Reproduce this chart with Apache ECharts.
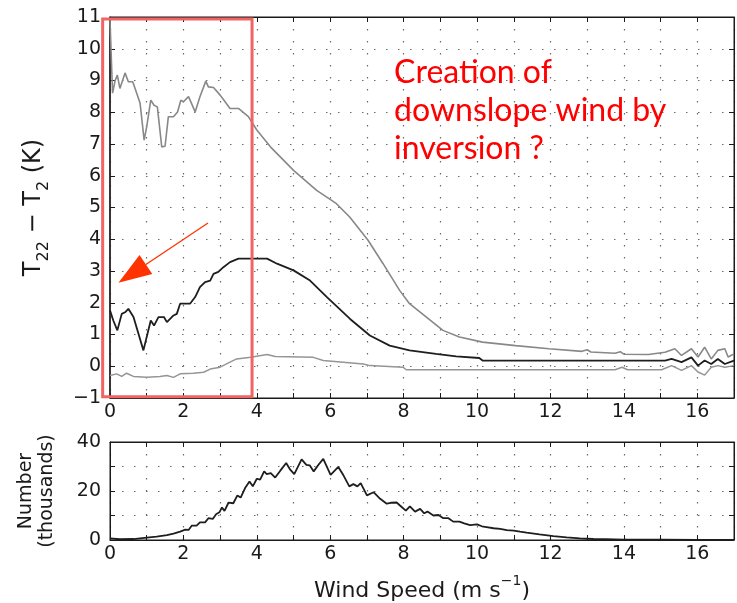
<!DOCTYPE html>
<html>
<head>
<meta charset="utf-8">
<script src="https://cdn.jsdelivr.net/npm/echarts@6/dist/echarts.min.js"></script>
<style>
  html, body { margin: 0; padding: 0; background: #ffffff; }
  #chart { width: 737px; height: 603px; }
</style>
</head>
<body>
<div id="chart"></div>
<script>
// Upper grey curve: T22 - T2 (K) against wind speed (m/s)
const upperCurve = [
  [0, 10.9], [0.07, 8.6], [0.14, 9.0], [0.2, 9.17], [0.27, 8.75], [0.41, 9.24], [0.5, 8.96],
  [0.62, 8.96], [0.73, 8.59], [0.82, 8.28], [0.93, 7.12], [1.0, 7.54], [1.11, 8.38], [1.2, 8.22],
  [1.29, 8.17], [1.41, 6.91], [1.5, 6.93], [1.59, 7.86], [1.73, 7.86], [1.84, 8.01], [1.93, 8.38],
  [2.0, 8.33], [2.14, 8.49], [2.32, 8.01], [2.45, 8.49], [2.61, 8.98], [2.68, 8.8], [2.82, 8.78],
  [3.0, 8.54], [3.07, 8.43], [3.27, 8.12], [3.5, 8.12], [3.77, 7.86], [4.0, 7.44], [4.37, 6.91],
  [5.0, 6.17], [5.63, 5.54], [6.17, 5.12], [6.53, 4.7], [7.03, 3.97], [7.44, 3.23], [7.89, 2.39],
  [8.16, 1.97], [8.62, 1.55], [9.07, 1.13], [9.52, 0.92], [10.15, 0.76], [11.05, 0.65],
  [11.96, 0.55], [12.86, 0.47], [13.0, 0.52], [13.1, 0.45], [13.76, 0.41], [13.9, 0.46],
  [14.0, 0.38], [14.67, 0.37], [15.12, 0.44], [15.39, 0.55], [15.57, 0.34], [15.84, 0.55],
  [16.02, 0.29], [16.2, 0.6], [16.38, 0.23], [16.56, 0.5], [16.75, 0.55], [16.84, 0.29], [17.0, 0.39]
];

// Dark middle curve
const middleCurve = [
  [0, 1.76], [0.09, 1.44], [0.2, 1.13], [0.32, 1.65], [0.41, 1.7], [0.5, 1.81], [0.64, 1.55],
  [0.91, 0.5], [1.11, 1.44], [1.2, 1.28], [1.32, 1.55], [1.47, 1.55], [1.55, 1.39], [1.73, 1.6],
  [1.82, 1.65], [1.91, 1.97], [2.18, 1.97], [2.32, 2.18], [2.45, 2.49], [2.59, 2.65], [2.73, 2.7],
  [2.82, 2.91], [2.95, 2.97], [3.09, 3.12], [3.27, 3.28], [3.5, 3.39], [4.28, 3.39], [4.55, 3.23],
  [5.0, 3.02], [5.45, 2.7], [5.91, 2.18], [6.54, 1.49], [7.08, 0.97], [7.62, 0.65], [8.16, 0.5],
  [8.88, 0.39], [9.43, 0.31], [10.06, 0.26], [10.15, 0.18], [15.12, 0.18], [15.3, 0.23],
  [15.57, 0.13], [15.84, 0.28], [16.02, 0.02], [16.2, 0.18], [16.38, 0.07], [16.56, 0.23],
  [16.75, 0.07], [17.0, 0.18]
];

// Lower grey curve
const lowerCurve = [
  [0, -0.29], [0.18, -0.24], [0.32, -0.32], [0.45, -0.22], [0.64, -0.32], [1.0, -0.35],
  [1.36, -0.32], [1.55, -0.29], [1.73, -0.35], [1.91, -0.24], [2.27, -0.22], [2.55, -0.19],
  [2.73, -0.09], [3.0, -0.03], [3.27, 0.13], [3.45, 0.23], [3.83, 0.28], [4.28, 0.37], [4.5, 0.31],
  [5.54, 0.28], [5.81, 0.18], [6.9, 0.07], [7.08, 0.02], [7.98, -0.03], [8.07, -0.11],
  [13.76, -0.11], [13.95, -0.03], [14.1, -0.11], [15.03, -0.11], [15.3, 0.02], [15.57, -0.13],
  [15.84, 0.02], [16.02, -0.18], [16.2, -0.28], [16.38, -0.03], [16.56, 0.02], [16.75, -0.03],
  [17.0, 0.02]
];

// Number of samples (thousands) per wind-speed bin
const countCurve = [
  [0, 0.7], [0.27, 0.3], [0.64, 0.4], [1.0, 1.0], [1.27, 1.4], [1.55, 2.0], [1.73, 2.6], [1.91, 3.4],
  [2.05, 4.2], [2.14, 4.1], [2.23, 5.9], [2.36, 5.9], [2.45, 7.2], [2.59, 7.2], [2.68, 8.9],
  [2.8, 8.6], [2.89, 10.5], [2.98, 11.3], [3.05, 13.3], [3.12, 11.9], [3.23, 15.3], [3.36, 15.0],
  [3.47, 18.2], [3.56, 17.3], [3.68, 21.2], [3.8, 23.9], [3.89, 21.9], [4.0, 25.0], [4.09, 24.6],
  [4.2, 28.0], [4.27, 26.9], [4.38, 27.3], [4.5, 25.5], [4.64, 28.3], [4.8, 31.4], [4.91, 28.7],
  [5.02, 26.9], [5.22, 32.9], [5.35, 30.7], [5.44, 30.5], [5.55, 28.0], [5.68, 30.7], [5.81, 33.1],
  [6.01, 26.6], [6.22, 29.8], [6.36, 26.4], [6.52, 21.9], [6.63, 22.8], [6.74, 21.9], [6.83, 23.2],
  [7.0, 18.2], [7.18, 19.5], [7.36, 16.8], [7.54, 14.8], [7.65, 15.2], [7.81, 15.3], [7.9, 14.1],
  [8.06, 12.0], [8.17, 13.7], [8.31, 11.6], [8.45, 12.7], [8.56, 10.9], [8.65, 11.6], [8.81, 10.0],
  [8.95, 10.2], [9.08, 8.9], [9.22, 8.9], [9.35, 7.5], [9.52, 7.5], [9.65, 6.8], [9.81, 6.1],
  [10.0, 6.4], [10.13, 5.6], [10.26, 5.3], [10.45, 4.8], [10.63, 4.5], [10.81, 4.0], [11.0, 3.8],
  [11.17, 3.4], [11.35, 3.0], [11.7, 2.3], [12.08, 1.6], [12.44, 1.1], [12.8, 0.7], [13.17, 0.4],
  [13.5, 0.3], [14.0, 0.15], [15.0, 0.1], [16.0, 0.05], [17.0, 0.05]
];

// Tick labels shown on each axis
const speedTickLabels = [0, 2, 4, 6, 8, 10, 12, 14, 16];
const tempTickLabels = [-1, 0, 1, 2, 3, 4, 5, 6, 7, 8, 9, 10, 11];
const countTickLabels = [0, 20, 40];

const FONT = 'DejaVu Sans';
const INK = '#1a1a1a';
const DOTS = { color: '#6a6a6a', width: 1.2, type: [1.5, 10.5] };

function fmtNum(v) {
  return v < 0 ? '\u2212' + Math.abs(v) : String(v);
}

function bottomX(grid, extra) {
  return Object.assign({
    type: 'value', gridIndex: grid, position: 'bottom', min: 0, max: 17, interval: 1,
    axisLine: { show: true, onZero: false, lineStyle: { color: INK, width: 1 } },
    axisTick: { show: true, inside: true, length: 5, lineStyle: { color: INK } },
    axisLabel: {
      show: true, margin: 5, color: INK, fontFamily: FONT, fontSize: 19,
      formatter: v => speedTickLabels.includes(v) ? fmtNum(v) : ''
    },
    splitLine: { show: true, lineStyle: DOTS }
  }, extra || {});
}

function frameX(grid) {
  return {
    type: 'value', gridIndex: grid, position: 'top', min: 0, max: 17, interval: 1,
    axisLine: { show: true, onZero: false, lineStyle: { color: INK } },
    axisTick: { show: true, inside: true, length: 5, lineStyle: { color: INK } },
    axisLabel: { show: false }, splitLine: { show: false }
  };
}

function frameY(grid, min, max, interval) {
  return {
    type: 'value', gridIndex: grid, position: 'right', min, max, interval,
    axisLine: { show: true, onZero: false, lineStyle: { color: INK } },
    axisTick: { show: true, inside: true, length: 5, lineStyle: { color: INK } },
    axisLabel: { show: false }, splitLine: { show: false }
  };
}

const chart = echarts.init(document.getElementById('chart'), null, { renderer: 'canvas' });

const option = {
  backgroundColor: '#ffffff',
  animation: false,
  grid: [
    { left: 110, top: 17, width: 626, height: 381, show: true, borderColor: INK, borderWidth: 1 },
    { left: 110, top: 442, width: 626, height: 98, show: true, borderColor: INK, borderWidth: 1 }
  ],
  xAxis: [
    bottomX(0),
    frameX(0),
    bottomX(1, {
      name: '{n|Wind Speed (m s}{sup|\u22121}{n|)}',
      nameLocation: 'middle', nameGap: 34,
      nameTextStyle: {
        rich: {
          n: { fontFamily: FONT, fontSize: 22, lineHeight: 28, verticalAlign: 'bottom', color: INK },
          sup: { fontFamily: FONT, fontSize: 14, lineHeight: 14, verticalAlign: 'top', color: INK }
        }
      }
    }),
    frameX(1)
  ],
  yAxis: [
    {
      type: 'value', gridIndex: 0, position: 'left', min: -1, max: 11, interval: 1,
      axisLine: { show: true, onZero: false, lineStyle: { color: INK, width: 1.5 } },
      axisTick: { show: true, inside: true, length: 5, lineStyle: { color: INK } },
      axisLabel: {
        margin: 9, color: INK, fontFamily: FONT, fontSize: 19,
        formatter: v => tempTickLabels.includes(v) ? fmtNum(v) : ''
      },
      splitLine: { show: true, lineStyle: DOTS },
      name: '{n|T}{s|22}{n| \u2212 T}{s|2}{n| (K)}',
      nameLocation: 'middle', nameRotate: 90, nameGap: 58,
      nameTextStyle: {
        rich: {
          n: { fontFamily: FONT, fontSize: 24, lineHeight: 30, verticalAlign: 'top', color: INK },
          s: { fontFamily: FONT, fontSize: 16, lineHeight: 16, verticalAlign: 'bottom', color: INK }
        }
      }
    },
    frameY(0, -1, 11, 1),
    {
      type: 'value', gridIndex: 1, position: 'left', min: 0, max: 40, interval: 10,
      axisLine: { show: true, onZero: false, lineStyle: { color: INK, width: 1 } },
      axisTick: { show: true, inside: true, length: 5, lineStyle: { color: INK } },
      axisLabel: {
        margin: 9, color: INK, fontFamily: FONT, fontSize: 19,
        formatter: v => countTickLabels.includes(v) ? fmtNum(v) : ''
      },
      splitLine: { show: true, lineStyle: DOTS },
      name: 'Number\n(thousands)',
      nameLocation: 'middle', nameRotate: 90, nameGap: 52,
      nameTextStyle: { fontFamily: FONT, fontSize: 19, lineHeight: 21, color: INK }
    },
    frameY(1, 0, 40, 10)
  ],
  series: [
    {
      name: 'upper', type: 'line', xAxisIndex: 0, yAxisIndex: 0, data: upperCurve,
      symbol: 'none', lineStyle: { color: '#888888', width: 1.6 }, z: 3
    },
    {
      name: 'lower', type: 'line', xAxisIndex: 0, yAxisIndex: 0, data: lowerCurve,
      symbol: 'none', lineStyle: { color: '#959595', width: 1.5 }, z: 3
    },
    {
      name: 'middle', type: 'line', xAxisIndex: 0, yAxisIndex: 0, data: middleCurve,
      symbol: 'none', lineStyle: { color: '#1e1e1e', width: 1.8 }, z: 4
    },
    {
      name: 'count', type: 'line', xAxisIndex: 2, yAxisIndex: 2, data: countCurve,
      symbol: 'none', lineStyle: { color: '#1e1e1e', width: 1.8 }, z: 4
    }
  ]
};

chart.setOption(option);

// Annotations placed in the upper panel's data space
const toPx = p => chart.convertToPixel({ xAxisIndex: 0, yAxisIndex: 0 }, p);
const boxA = toPx([-0.2, 10.94]);
const boxB = toPx([3.87, -0.96]);
const arrowTail = toPx([2.67, 4.51]);
const arrowTip = toPx([0.23, 2.63]);
const noteAt = toPx([7.74, 9.83]);

const dx = arrowTip[0] - arrowTail[0];
const dy = arrowTip[1] - arrowTail[1];
const len = Math.sqrt(dx * dx + dy * dy);
const ux = dx / len, uy = dy / len;
const headLen = 33, headHalf = 11.5;
const base = [arrowTip[0] - ux * headLen, arrowTip[1] - uy * headLen];
const left = [base[0] - uy * headHalf, base[1] + ux * headHalf];
const right = [base[0] + uy * headHalf, base[1] - ux * headHalf];

chart.setOption({
  graphic: [
    {
      type: 'rect', z: 50,
      shape: { x: boxA[0], y: boxA[1], width: boxB[0] - boxA[0], height: boxB[1] - boxA[1] },
      style: { fill: 'none', stroke: '#f06464', lineWidth: 3 }
    },
    {
      type: 'line', z: 50,
      shape: { x1: arrowTail[0], y1: arrowTail[1], x2: base[0], y2: base[1] },
      style: { stroke: '#ff3300', lineWidth: 1.3 }
    },
    {
      type: 'polygon', z: 50,
      shape: { points: [arrowTip, left, right] },
      style: { fill: '#ff3300' }
    },
    {
      type: 'text', z: 50, x: noteAt[0], y: noteAt[1],
      style: {
        text: 'Creation of\ndownslope wind by\ninversion ?',
        fill: '#ff0000', font: '32px Lato', lineHeight: 38,
        align: 'left', verticalAlign: 'top'
      }
    }
  ]
});
</script>
</body>
</html>
